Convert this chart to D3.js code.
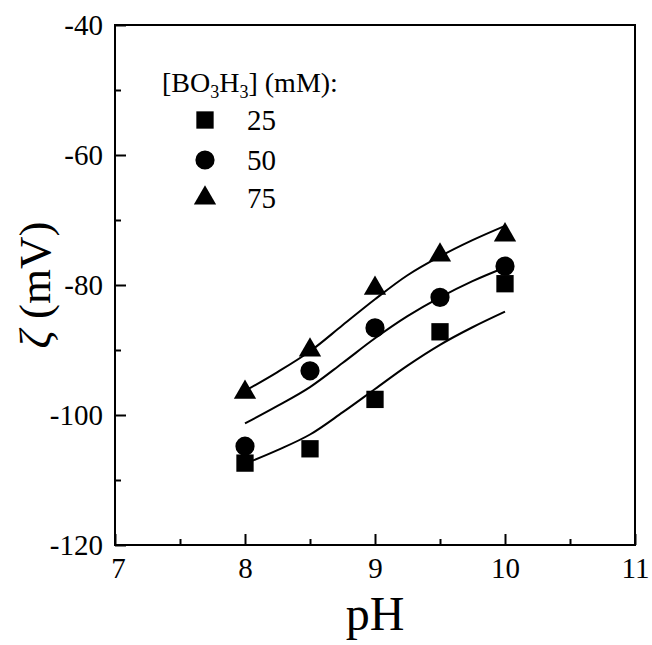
<!DOCTYPE html>
<html>
<head>
<meta charset="utf-8">
<script src="https://cdn.jsdelivr.net/npm/d3@7"></script>
<style>
  body { margin: 0; background: #fff; }
  svg { display: block; font-family: "Liberation Serif", "Times New Roman", serif; }
</style>
</head>
<body>
<div id="chart"></div>
<script>
// pH values measured
const phValues = [8, 8.5, 9, 9.5, 10];

// zeta potential (mV) for each boric acid concentration
const zeta25 = [-107.4, -105.2, -97.6, -87.2, -79.8];
const zeta50 = [-104.8, -93.2, -86.6, -81.9, -77.1];
const zeta75 = [-96.5, -90.0, -80.5, -75.4, -72.3];

// fitted curves
const fitPh = [8, 8.25, 8.5, 8.75, 9, 9.25, 9.5, 9.75, 10];
const fit25 = [-107.5, -105.4, -103.0, -99.6, -96.0, -92.4, -89.2, -86.5, -84.1];
const fit50 = [-101.3, -98.6, -95.7, -92.0, -88.2, -84.8, -81.9, -79.4, -77.3];
const fit75 = [-96.3, -93.4, -90.2, -86.2, -82.2, -78.5, -75.6, -73.1, -70.9];

const concLabels = ['25', '50', '75'];
const xTicks = [7, 8, 9, 10, 11];
const yTicks = [-120, -100, -80, -60, -40];

const W = 652, H = 645;
const mLeft = 115, mRight = 635, mTop = 25, mBottom = 545;

const svg = d3.select('#chart')
    .append('svg')
    .attr('width', W)
    .attr('height', H);

// scales
const x = d3.scaleLinear().domain([7, 11]).range([mLeft, mRight]);
const y = d3.scaleLinear().domain([-120, -40]).range([mBottom, mTop]);

// minor ticks
svg.append('g')
    .attr('transform', `translate(0,${mBottom})`)
    .call(d3.axisBottom(x).tickValues(d3.range(7.5, 11, 1)).tickSize(-6).tickFormat(''))
    .call(g => g.select('.domain').remove());

svg.append('g')
    .attr('transform', `translate(${mLeft},0)`)
    .call(d3.axisLeft(y).tickValues(d3.range(-110, -40, 20)).tickSize(-6).tickFormat(''))
    .call(g => g.select('.domain').remove());

// major ticks
const xAxis = svg.append('g')
    .attr('transform', `translate(0,${mBottom})`)
    .call(d3.axisBottom(x).tickValues(xTicks).tickSize(-11).tickPadding(12).tickFormat(d3.format('d')));
xAxis.select('.domain').remove();

const yAxis = svg.append('g')
    .attr('transform', `translate(${mLeft},0)`)
    .call(d3.axisLeft(y).tickValues(yTicks).tickSize(-11).tickPadding(12).tickFormat(d => d));
yAxis.select('.domain').remove();

svg.selectAll('.tick line').attr('stroke', '#000').attr('stroke-width', 2);
svg.selectAll('.tick text')
    .attr('fill', '#000')
    .style('font-size', '29px')
    .style('font-family', '"Liberation Serif", serif');
xAxis.selectAll('.tick text').attr('dx', d => d === 7 ? 3 : 0);

// frame
svg.append('rect')
    .attr('x', mLeft)
    .attr('y', mTop)
    .attr('width', mRight - mLeft)
    .attr('height', mBottom - mTop)
    .attr('fill', 'none')
    .attr('stroke', '#000')
    .attr('stroke-width', 2);

// fitted lines
const line = d3.line()
    .x(d => x(d[0]))
    .y(d => y(d[1]))
    .curve(d3.curveCatmullRom.alpha(0.5));

[fit25, fit50, fit75].forEach(fit => {
    svg.append('path')
        .datum(fitPh.map((p, i) => [p, fit[i]]))
        .attr('d', line)
        .attr('fill', 'none')
        .attr('stroke', '#000')
        .attr('stroke-width', 2);
});

// markers
const shapes = [
    d3.symbol().type(d3.symbolSquare).size(300),
    d3.symbol().type(d3.symbolCircle).size(290),
    d3.symbol().type(d3.symbolTriangle).size(215)
];

[zeta25, zeta50, zeta75].forEach((series, k) => {
    svg.append('g')
        .selectAll('path')
        .data(phValues.map((p, i) => [p, series[i]]))
        .enter()
        .append('path')
        .attr('d', shapes[k])
        .attr('transform', d => `translate(${x(d[0])},${y(d[1])})`)
        .attr('fill', '#000');
});

// legend
const title = svg.append('text')
    .attr('x', 162)
    .attr('y', 92)
    .style('font-size', '28px');
title.append('tspan').text('[BO');
title.append('tspan').text('3').style('font-size', '18px').attr('dy', 6);
title.append('tspan').text('H').attr('dy', -6);
title.append('tspan').text('3').style('font-size', '18px').attr('dy', 6);
title.append('tspan').text('] (mM):').attr('dy', -6);

const legendY = [120, 160, 198];
concLabels.forEach((lab, k) => {
    svg.append('path')
        .attr('d', shapes[k])
        .attr('transform', `translate(205,${legendY[k]})`)
        .attr('fill', '#000');
    svg.append('text')
        .attr('x', 247)
        .attr('y', legendY[k] + 10)
        .style('font-size', '29px')
        .text(lab);
});

// axis titles
svg.append('text')
    .attr('x', (mLeft + mRight) / 2)
    .attr('y', 630)
    .attr('text-anchor', 'middle')
    .style('font-size', '48px')
    .text('pH');

const yTitle = svg.append('text')
    .attr('transform', `translate(50,${(mTop + mBottom) / 2}) rotate(-90)`)
    .attr('text-anchor', 'middle')
    .style('font-size', '45px');
yTitle.append('tspan').text('ζ').style('font-style', 'italic');
yTitle.append('tspan').text(' (mV)');
</script>
</body>
</html>
